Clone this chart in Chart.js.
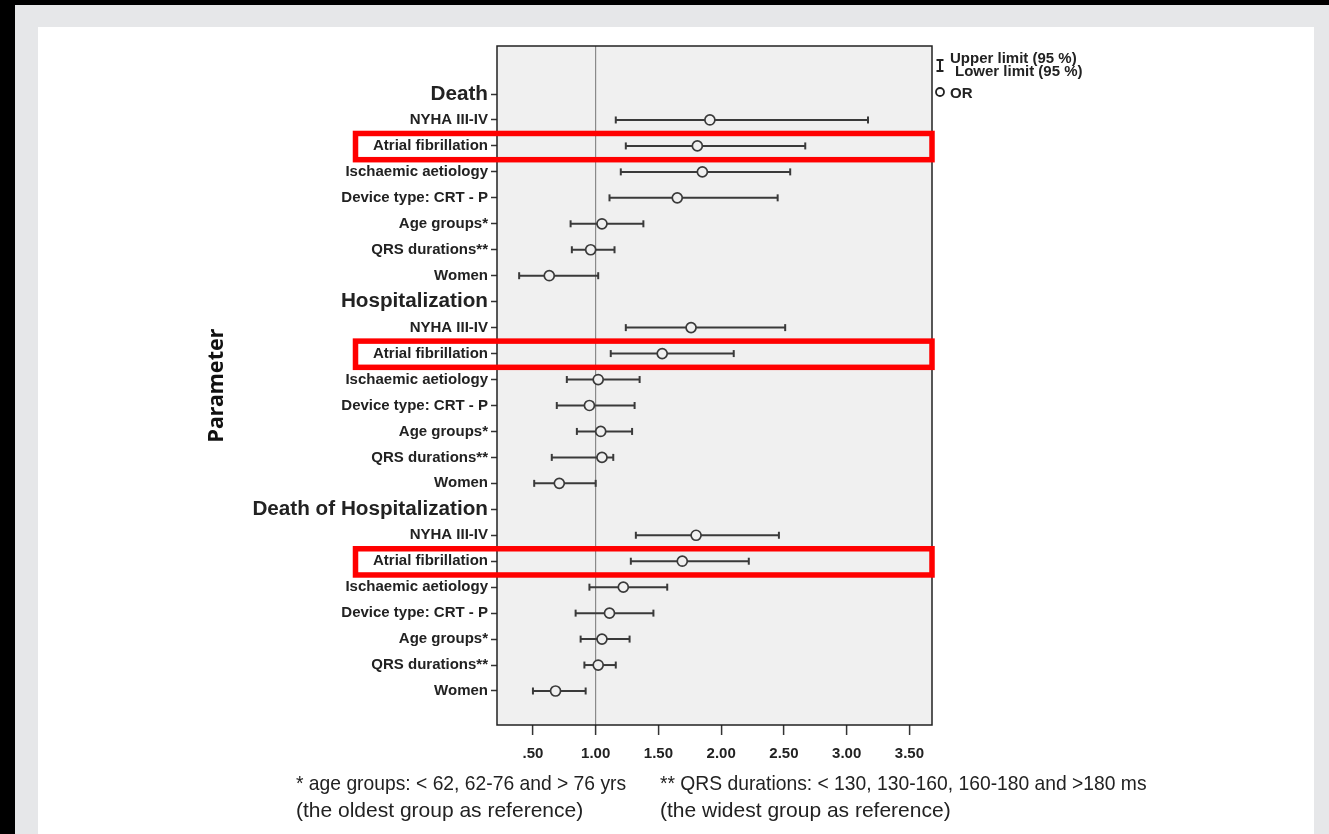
<!DOCTYPE html>
<html>
<head>
<meta charset="utf-8">
<script src="https://cdn.jsdelivr.net/npm/chart.js@4.4.1/dist/chart.umd.min.js"></script>
<style>
  html, body { margin: 0; padding: 0; background: #000; width: 1329px; height: 834px; overflow: hidden; }
  #frame { position: absolute; left: 15px; top: 5px; width: 1314px; height: 829px; background: #e6e7e9; }
  #panel { position: absolute; left: 38px; top: 27px; width: 1276px; height: 807px; background: #fff; }
  #chart { position: absolute; left: 0; top: 0; }
  .note { position: absolute; font-family: "Liberation Sans", Arial, sans-serif; font-size: 21px; color: #222; white-space: nowrap; line-height: 27px; transform-origin: left top; }
  .note.head { transform: scaleX(0.918); }
</style>
</head>
<body>
<div id="frame"></div>
<div id="panel"></div>
<canvas id="chart" width="1329" height="834"></canvas>
<div class="note head" id="note1a" style="left:296px; top:769px;"></div>
<div class="note" id="note1b" style="left:296px; top:796px;"></div>
<div class="note head" id="note2a" style="left:660px; top:769px;"></div>
<div class="note" id="note2b" style="left:660px; top:796px;"></div>
<script>
// Rows of the forest plot, top to bottom (group headers carry no estimate)
const rowLabels = [
  'Death', 'NYHA III-IV', 'Atrial fibrillation', 'Ischaemic aetiology', 'Device type: CRT - P', 'Age groups*', 'QRS durations**', 'Women',
  'Hospitalization', 'NYHA III-IV', 'Atrial fibrillation', 'Ischaemic aetiology', 'Device type: CRT - P', 'Age groups*', 'QRS durations**', 'Women',
  'Death of Hospitalization', 'NYHA III-IV', 'Atrial fibrillation', 'Ischaemic aetiology', 'Device type: CRT - P', 'Age groups*', 'QRS durations**', 'Women'
];
const headerRows = [0, 8, 16];
const highlightRows = [2, 10, 18];

// Odds ratios and 95 % confidence limits
const oddsRatio = [
  null, 1.91, 1.81, 1.85, 1.65, 1.05, 0.96, 0.63,
  null, 1.76, 1.53, 1.02, 0.95, 1.04, 1.05, 0.71,
  null, 1.80, 1.69, 1.22, 1.11, 1.05, 1.02, 0.68
];
const lowerLimit = [
  null, 1.16, 1.24, 1.20, 1.11, 0.80, 0.81, 0.39,
  null, 1.24, 1.12, 0.77, 0.69, 0.85, 0.65, 0.51,
  null, 1.32, 1.28, 0.95, 0.84, 0.88, 0.91, 0.50
];
const upperLimit = [
  null, 3.17, 2.67, 2.55, 2.45, 1.38, 1.15, 1.02,
  null, 2.51, 2.10, 1.35, 1.31, 1.29, 1.14, 1.00,
  null, 2.46, 2.22, 1.57, 1.46, 1.27, 1.16, 0.92
];

const xTickValues = [0.5, 1.0, 1.5, 2.0, 2.5, 3.0, 3.5];
const xTickLabels = ['.50', '1.00', '1.50', '2.00', '2.50', '3.00', '3.50'];
const referenceValue = 1.0;

const legendLabels = ['Upper limit (95 %)', 'Lower limit (95 %)', 'OR'];
const footnotes = [
  ['* age groups: < 62, 62-76 and > 76 yrs', '(the oldest group as reference)'],
  ['** QRS durations: < 130, 130-160, 160-180 and >180 ms', '(the widest group as reference)']
];

document.getElementById('note1a').textContent = footnotes[0][0];
document.getElementById('note1b').textContent = footnotes[0][1];
document.getElementById('note2a').textContent = footnotes[1][0];
document.getElementById('note2b').textContent = footnotes[1][1];

const INK = '#3a3a3a';
const PLOT_BG = '#f0f0f0';
const labelFont = { family: '"Liberation Sans", Arial, sans-serif', size: 15, weight: 'bold' };
const headerFont = { family: '"Liberation Sans", Arial, sans-serif', size: 20.7, weight: 'bold' };

// One whisker dataset per estimated row
const whiskerSets = [];
rowLabels.forEach((_, i) => {
  if (oddsRatio[i] === null) return;
  whiskerSets.push({
    data: [{ x: lowerLimit[i], y: i }, { x: upperLimit[i], y: i }],
    showLine: true,
    borderColor: INK,
    borderWidth: 2,
    pointStyle: 'line',
    rotation: 90,
    pointRadius: 3.5,
    pointBorderWidth: 2,
    pointBorderColor: INK,
    order: 1
  });
});

const orSet = {
  data: rowLabels.map((_, i) => oddsRatio[i] === null ? null : { x: oddsRatio[i], y: i }).filter(p => p),
  pointStyle: 'circle',
  pointRadius: 5,
  pointBackgroundColor: PLOT_BG,
  pointBorderColor: INK,
  pointBorderWidth: 1.7,
  showLine: false,
  order: 0
};

const plotFrame = {
  id: 'plotFrame',
  beforeDraw(chart) {
    const { ctx, chartArea: a } = chart;
    ctx.save();
    ctx.fillStyle = PLOT_BG;
    ctx.fillRect(a.left, a.top, a.right - a.left, a.bottom - a.top);
    ctx.restore();
  },
  afterDatasetsDraw(chart) {
    const { ctx, chartArea: a } = chart;
    ctx.save();
    ctx.strokeStyle = '#222';
    ctx.lineWidth = 1.5;
    ctx.strokeRect(a.left, a.top, a.right - a.left, a.bottom - a.top);
    ctx.restore();
  }
};

// Red outlines around the atrial fibrillation rows
const highlightBoxes = {
  id: 'highlightBoxes',
  afterDraw(chart) {
    const { ctx, chartArea: a, scales: { y } } = chart;
    ctx.save();
    ctx.strokeStyle = '#ff0000';
    ctx.lineWidth = 5.5;
    highlightRows.forEach(r => {
      const top = y.getPixelForValue(r - 0.48);
      const bottom = y.getPixelForValue(r + 0.53);
      ctx.strokeRect(a.left - 141.5, top, a.right - (a.left - 141.5), bottom - top);
    });
    ctx.restore();
  }
};

const sideLegend = {
  id: 'sideLegend',
  afterDraw(chart) {
    const { ctx, chartArea: a } = chart;
    const x0 = a.right + 8;
    ctx.save();
    ctx.fillStyle = '#222';
    ctx.strokeStyle = '#222';
    // whisker symbol
    ctx.lineWidth = 2;
    ctx.beginPath();
    ctx.moveTo(x0, a.top + 14); ctx.lineTo(x0, a.top + 25);
    ctx.moveTo(x0 - 3.5, a.top + 14); ctx.lineTo(x0 + 3.5, a.top + 14);
    ctx.moveTo(x0 - 3.5, a.top + 25); ctx.lineTo(x0 + 3.5, a.top + 25);
    ctx.stroke();
    ctx.font = 'bold 15px "Liberation Sans", Arial, sans-serif';
    ctx.textBaseline = 'middle';
    ctx.fillText(legendLabels[0], x0 + 10, a.top + 13);
    ctx.fillText(legendLabels[1], x0 + 15, a.top + 26);
    // circle symbol
    ctx.lineWidth = 1.8;
    ctx.beginPath();
    ctx.arc(x0, a.top + 46, 4, 0, Math.PI * 2);
    ctx.stroke();
    ctx.fillText(legendLabels[2], x0 + 10, a.top + 48);
    ctx.restore();
  }
};

new Chart(document.getElementById('chart'), {
  type: 'scatter',
  data: { datasets: [...whiskerSets, orSet] },
  plugins: [plotFrame, highlightBoxes, sideLegend],
  options: {
    responsive: false,
    animation: false,
    layout: { padding: { left: 204, top: 46, right: 397, bottom: 69 } },
    plugins: { legend: { display: false }, tooltip: { enabled: false } },
    scales: {
      x: {
        type: 'linear',
        min: 0.2135,
        max: 3.68,
        afterBuildTicks(scale) { scale.ticks = xTickValues.map(v => ({ value: v })); },
        afterFit(scale) { scale.height = 40; },
        border: { display: false },
        grid: {
          drawTicks: true,
          tickLength: 10,
          tickColor: '#333',
          tickWidth: 1.5,
          color: ctx => (ctx.tick && ctx.tick.value === referenceValue) ? '#8a8a8a' : 'rgba(0,0,0,0)',
          lineWidth: 1.2
        },
        ticks: {
          autoSkip: false,
          maxRotation: 0,
          padding: 10,
          color: '#222',
          font: { family: '"Liberation Sans", Arial, sans-serif', size: 15, weight: 'bold' },
          callback: (v, i) => xTickLabels[i]
        }
      },
      y: {
        type: 'linear',
        reverse: true,
        min: -1.85,
        max: 24.31,
        afterBuildTicks(scale) { scale.ticks = rowLabels.map((_, i) => ({ value: i })); },
        afterFit(scale) { scale.width = 293; },
        border: { display: false },
        grid: {
          drawTicks: true,
          tickLength: 6,
          tickColor: '#333',
          tickWidth: 1.5,
          color: 'rgba(0,0,0,0)'
        },
        title: {
          display: true,
          text: 'Parameter',
          color: '#111',
          padding: { top: 0, bottom: 0 },
          font: { family: '"Noto Sans", sans-serif', size: 21.5, weight: 'bold' }
        },
        ticks: {
          autoSkip: false,
          padding: 3,
          color: '#222',
          font: ctx => headerRows.includes(ctx.index) ? headerFont : labelFont,
          callback: v => rowLabels[v]
        }
      }
    }
  }
});
</script>
</body>
</html>
